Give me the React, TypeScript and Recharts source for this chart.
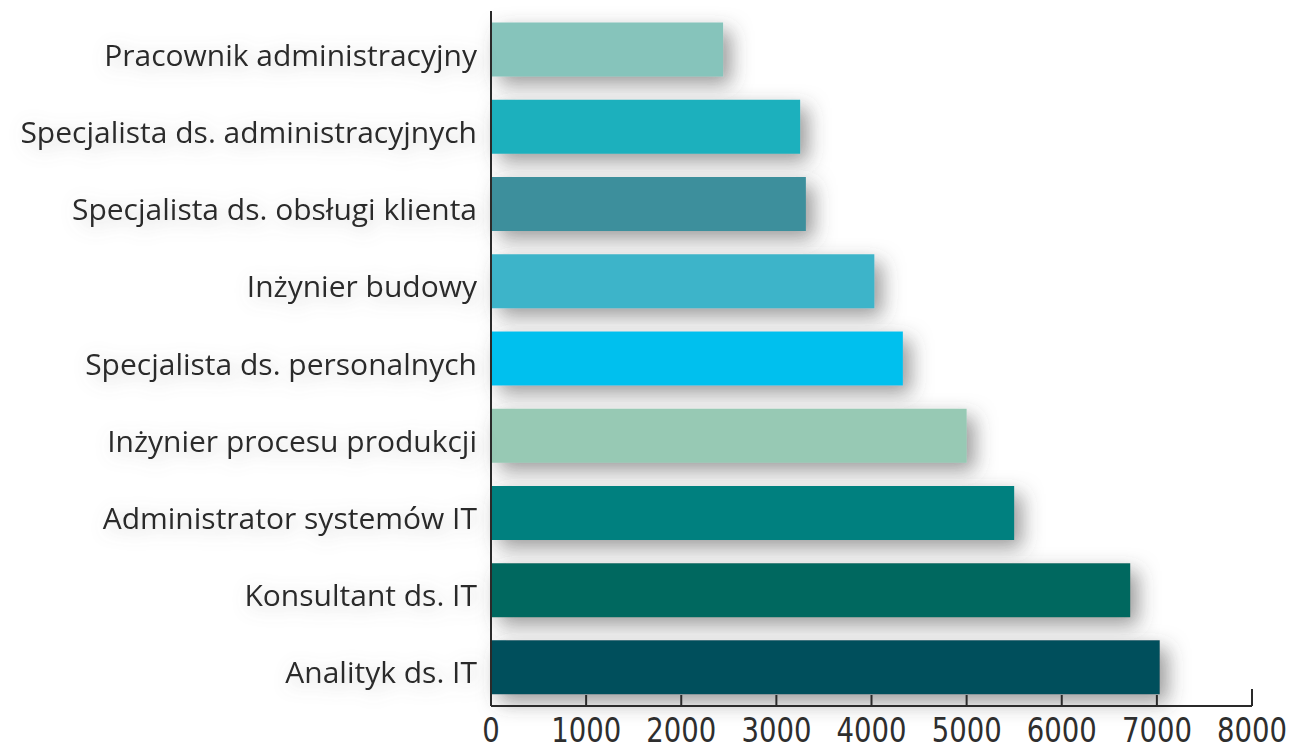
import { BarChart, Bar, XAxis, YAxis, Cell } from 'recharts';

const jobs = [
  'Pracownik administracyjny',
  'Specjalista ds. administracyjnych',
  'Specjalista ds. obsługi klienta',
  'Inżynier budowy',
  'Specjalista ds. personalnych',
  'Inżynier procesu produkcji',
  'Administrator systemów IT',
  'Konsultant ds. IT',
  'Analityk ds. IT',
];

const salaries = [2440, 3250, 3310, 4030, 4330, 5000, 5500, 6720, 7030];

const barColors = [
  '#86c4bb',
  '#1fb0bd',
  '#3d8f9c',
  '#3eb4c9',
  '#06c0ee',
  '#97c9b4',
  '#00807f',
  '#02675e',
  '#004f5c',
];

const xTicks = [0, 1000, 2000, 3000, 4000, 5000, 6000, 7000, 8000];

const data = jobs.map((job, i) => ({ job, salary: salaries[i] }));

const TICK_MARGIN = 14;

// the original uses a condensed face for the numbers, so squeeze the glyphs a bit
function XTick(props: any) {
  const { x, y, payload } = props;
  const axisY = y - TICK_MARGIN;
  const isLast = payload.value === xTicks[xTicks.length - 1];
  const label = String(payload.value);
  return (
    <g>
      <line
        x1={x}
        x2={x}
        y1={axisY}
        y2={axisY - (isLast ? 17 : 11)}
        stroke="#2a2a2a"
        strokeWidth={2}
      />
      <text
        x={x}
        y={y + 22}
        textAnchor="middle"
        fill="#2e2e2e"
        fontSize={34}
        textLength={17.5 * label.length}
        lengthAdjust="spacingAndGlyphs"
        fontFamily="'DejaVu Sans Condensed', 'Liberation Sans Narrow', sans-serif"
      >
        {label}
      </text>
    </g>
  );
}

function YTick(props: any) {
  const { x, y, payload } = props;
  return (
    <text
      x={x}
      y={y + 16}
      textAnchor="end"
      fill="#2b2b2b"
      fontSize={30}
      fontFamily="'Open Sans', sans-serif"
      filter="url(#textHaze)"
    >
      {payload.value}
    </text>
  );
}

export default function App() {
  return (
    <div style={{ position: 'absolute', left: 0, top: 0, background: '#fff' }}>
      <BarChart
        width={1291}
        height={746}
        data={data}
        layout="vertical"
        margin={{ top: 11, right: 39, bottom: 0, left: 0 }}
        barCategoryGap="15%"
      >
        <defs>
          <filter id="barShadow" x="-10%" y="-50%" width="130%" height="250%">
            <feDropShadow dx={8} dy={8} stdDeviation={10} floodColor="#4a4a4a" floodOpacity={0.55} />
          </filter>
          <filter id="textHaze" x="-10%" y="-60%" width="125%" height="250%">
            <feDropShadow dx={4} dy={4} stdDeviation={9} floodColor="#777" floodOpacity={0.35} />
          </filter>
        </defs>
        <XAxis
          type="number"
          domain={[0, 8000]}
          ticks={xTicks}
          interval={0}
          height={40}
          tickLine={false}
          tickSize={0}
          tickMargin={TICK_MARGIN}
          axisLine={{ stroke: '#2a2a2a', strokeWidth: 2 }}
          tick={<XTick />}
        />
        <YAxis
          type="category"
          dataKey="job"
          width={491}
          tickLine={false}
          tickSize={0}
          tickMargin={14}
          axisLine={{ stroke: '#2a2a2a', strokeWidth: 2 }}
          tick={<YTick />}
        />
        <Bar dataKey="salary" isAnimationActive={false} filter="url(#barShadow)">
          {data.map((d, i) => (
            <Cell key={d.job} fill={barColors[i]} />
          ))}
        </Bar>
      </BarChart>
    </div>
  );
}
